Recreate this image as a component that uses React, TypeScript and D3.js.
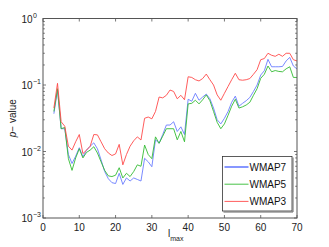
import React, { useEffect, useRef } from 'react';
import * as d3 from 'd3';

const ells = d3.range(3, 71);

const wmap7 = [0.037, 0.084, 0.022, 0.022, 0.009, 0.0066, 0.0085, 0.0114, 0.0083, 0.0105,
    0.012, 0.0135, 0.011, 0.0075, 0.005, 0.0039, 0.0034, 0.0033, 0.0047, 0.0032,
    0.004, 0.0036, 0.004, 0.0038, 0.0036, 0.0079, 0.007, 0.0059, 0.015, 0.0133,
    0.018, 0.025, 0.025, 0.028, 0.02, 0.0235, 0.018, 0.061, 0.057, 0.075,
    0.059, 0.066, 0.073, 0.062, 0.045, 0.03, 0.026, 0.0316, 0.04, 0.055,
    0.068, 0.048, 0.053, 0.058, 0.065, 0.08, 0.1, 0.141, 0.164, 0.243,
    0.188, 0.188, 0.188, 0.19, 0.23, 0.26, 0.193, 0.174];

const wmap5 = [0.04, 0.088, 0.022, 0.023, 0.0078, 0.0052, 0.008, 0.011, 0.008, 0.0097,
    0.0105, 0.0118, 0.0095, 0.007, 0.0052, 0.0043, 0.0042, 0.0044, 0.0057, 0.004,
    0.0047, 0.0042, 0.005, 0.0063, 0.006, 0.0125, 0.009, 0.0078, 0.0166, 0.0133,
    0.017, 0.022, 0.022, 0.022, 0.015, 0.02, 0.014, 0.052, 0.053, 0.059,
    0.052, 0.06, 0.071, 0.058, 0.04, 0.0275, 0.022, 0.026, 0.035, 0.048,
    0.061, 0.045, 0.047, 0.05, 0.055, 0.07, 0.088, 0.126, 0.145, 0.193,
    0.158, 0.165, 0.16, 0.158, 0.175, 0.188, 0.13, 0.13];

const wmap3 = [0.045, 0.106, 0.028, 0.024, 0.012, 0.0105, 0.014, 0.018, 0.0093, 0.0105,
    0.012, 0.018, 0.0178, 0.014, 0.011, 0.0095, 0.0087, 0.0092, 0.0128, 0.0063,
    0.009, 0.012, 0.0145, 0.0166, 0.0149, 0.0316, 0.033, 0.031, 0.04, 0.066,
    0.064, 0.07, 0.084, 0.08, 0.062, 0.07, 0.06, 0.133, 0.13, 0.12,
    0.115, 0.125, 0.146, 0.12, 0.1, 0.071, 0.059, 0.075, 0.095, 0.12,
    0.15, 0.12, 0.118, 0.12, 0.125, 0.145, 0.17, 0.24, 0.25, 0.3,
    0.28, 0.27, 0.29, 0.27, 0.3, 0.3, 0.24, 0.23];

const seriesNames = ['WMAP7', 'WMAP5', 'WMAP3'];
const seriesColors = ['#6a7dff', '#33bb33', '#ff4a4a'];
const xTicks = [0, 10, 20, 30, 40, 50, 60, 70];
const yExponents = [0, -1, -2, -3];

export default function App() {
    const ref = useRef<SVGSVGElement>(null);

    useEffect(() => {
        const width = 329;
        const height = 247;
        const left = 43, right = 297, top = 18.5, bottom = 218;

        const svg = d3.select(ref.current);
        svg.selectAll('*').remove();
        svg.attr('width', width).attr('height', height)
            .style('font-family', '"Liberation Sans", Arial, sans-serif');

        svg.append('rect').attr('width', width).attr('height', height).attr('fill', 'white');

        const x = d3.scaleLinear().domain([0, 70]).range([left, right]);
        const y = d3.scaleLog().domain([1e-3, 1]).range([bottom, top]);

        const axisColor = '#555';

        // lines
        const line = d3.line<number>()
            .x((d, i) => x(ells[i]))
            .y((d) => y(d));

        [wmap7, wmap5, wmap3].forEach((vals, i) => {
            svg.append('path')
                .datum(vals)
                .attr('d', line)
                .attr('fill', 'none')
                .attr('stroke', seriesColors[i])
                .attr('stroke-width', 0.9);
        });

        // box
        svg.append('rect')
            .attr('x', left).attr('y', top)
            .attr('width', right - left).attr('height', bottom - top)
            .attr('fill', 'none')
            .attr('stroke', axisColor)
            .attr('stroke-width', 1);

        // x ticks top & bottom
        const tk = svg.append('g').attr('stroke', axisColor).attr('stroke-width', 0.8);
        xTicks.forEach((t) => {
            tk.append('line').attr('x1', x(t)).attr('x2', x(t)).attr('y1', bottom).attr('y2', bottom - 3);
            tk.append('line').attr('x1', x(t)).attr('x2', x(t)).attr('y1', top).attr('y2', top + 3);
        });
        // y ticks, major + minor on both sides
        yExponents.forEach((e) => {
            const v = Math.pow(10, e);
            tk.append('line').attr('x1', left).attr('x2', left + 3).attr('y1', y(v)).attr('y2', y(v));
            tk.append('line').attr('x1', right).attr('x2', right - 3).attr('y1', y(v)).attr('y2', y(v));
            if (e < 0) {
                d3.range(2, 10).forEach((m) => {
                    const mv = m * v;
                    tk.append('line').attr('x1', left).attr('x2', left + 1.8).attr('y1', y(mv)).attr('y2', y(mv));
                    tk.append('line').attr('x1', right).attr('x2', right - 1.8).attr('y1', y(mv)).attr('y2', y(mv));
                });
            }
        });

        // x tick labels
        svg.append('g')
            .selectAll('text')
            .data(xTicks)
            .join('text')
            .attr('x', (d) => x(d))
            .attr('y', bottom + 13)
            .attr('text-anchor', 'middle')
            .attr('font-size', 10)
            .attr('fill', '#222')
            .text((d) => d);

        // y tick labels
        yExponents.forEach((e) => {
            svg.append('text')
                .attr('x', 32.5)
                .attr('y', y(Math.pow(10, e)) + 4)
                .attr('text-anchor', 'end')
                .attr('font-size', 10)
                .attr('fill', '#222')
                .text('10');
            svg.append('text')
                .attr('x', 33)
                .attr('y', y(Math.pow(10, e)) - 1)
                .attr('font-size', 7)
                .attr('fill', '#222')
                .text(e === 0 ? '0' : '\u2212' + Math.abs(e));
        });

        // y label
        const yl = svg.append('text')
            .attr('transform', `translate(16,${(top + bottom) / 2}) rotate(-90)`)
            .attr('text-anchor', 'middle')
            .attr('font-size', 10)
            .attr('fill', '#222');
        yl.append('tspan').attr('font-style', 'italic').text('p');
        yl.append('tspan').text('\u2212 value');

        // x label
        const xl = svg.append('text')
            .attr('x', 168)
            .attr('y', 237)
            .attr('font-size', 10)
            .attr('fill', '#222');
        xl.append('tspan').text('l');
        xl.append('tspan').attr('font-size', 7).attr('dy', 4).text('max');

        // legend
        const lx = 222.5, ly = 156.5, lw = 69.5, lh = 54.5;
        const lg = svg.append('g');
        lg.append('rect').attr('x', lx).attr('y', ly).attr('width', lw).attr('height', lh)
            .attr('fill', 'white').attr('stroke', '#333').attr('stroke-width', 0.8);
        lg.append('path')
            .attr('d', `M${lx + lw + 1},${ly + 1}V${ly + lh + 1}H${lx + 1}`)
            .attr('fill', 'none').attr('stroke', '#666').attr('stroke-width', 1);
        seriesNames.forEach((name, i) => {
            const yy = ly + 10.5 + i * 17.2;
            lg.append('line').attr('x1', lx + 2).attr('x2', lx + 26).attr('y1', yy).attr('y2', yy)
                .attr('stroke', seriesColors[i]).attr('stroke-width', i === 0 ? 1.6 : 0.9);
            lg.append('text').attr('x', lx + 27).attr('y', yy + 3.6)
                .attr('font-size', 10).attr('fill', '#111').text(name);
        });
    }, []);

    return (
        <svg ref={ref} style={{ position: 'absolute', left: 0, top: 0 }} />
    );
}
